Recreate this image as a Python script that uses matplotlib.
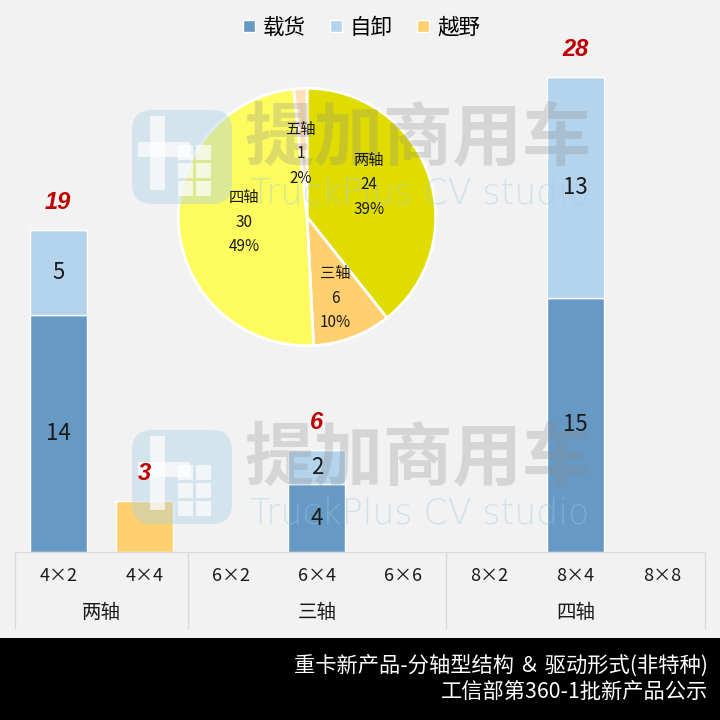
import matplotlib.pyplot as plt
from matplotlib.patches import FancyBboxPatch, Rectangle
from matplotlib.lines import Line2D
import numpy as np

plt.rcParams['font.family'] = ['Noto Sans CJK SC', 'DejaVu Sans']

# bar data
categories = ['4×2', '4×4', '6×2', '6×4', '6×6', '8×2', '8×4', '8×8']
groups = ['两轴', '三轴', '四轴']
group_sizes = [2, 3, 3]
series = ['载货', '自卸', '越野']
cargo = [14, 0, 0, 4, 0, 0, 15, 0]
dump = [5, 0, 0, 2, 0, 0, 13, 0]
offroad = [0, 3, 0, 0, 0, 0, 0, 0]
colors = ['#6699C4', '#B4D4EE', '#FFD16E']

# pie data
pie_labels = ['两轴', '三轴', '四轴', '五轴']
pie_values = [24, 6, 30, 1]
pie_colors = ['#E0DC00', '#FFCF70', '#FDFB5E', '#FFE0B8']
# where the labels sit inside the pie (pie radius = 1)
pie_label_xy = [(0.48, 0.25), (0.22, -0.63), (-0.49, -0.04), (-0.05, 0.49)]

bg = '#F2F2F2'
fig = plt.figure(figsize=(7.2, 7.2), dpi=100, facecolor=bg)

W = H = 720.0
def fx(px):
    return px / W
def fy(py):
    return 1 - py / H

# bar axes
ax = fig.add_axes([fx(15), fy(552), fx(705) - fx(15), fy(50) - fy(552)], zorder=0)
ax.set_facecolor(bg)
x = np.arange(len(categories))
totals = [a + b + c for a, b, c in zip(cargo, dump, offroad)]
bottom = np.zeros(len(categories))
for name, vals, col in zip(series, [cargo, dump, offroad], colors):
    vals = np.array(vals)
    ax.bar(x, vals, 0.66, bottom=bottom, color=col, edgecolor='white', linewidth=1, label=name)
    for xi, v, b in zip(x, vals, bottom):
        if v > 0 and name != '越野':
            fig.text(xi, b + v / 2, str(v), ha='center', va='center', fontsize=16, color='#1a1a1a',
                     transform=ax.transData)
    bottom += vals
for xi, t in zip(x, totals):
    if t > 0:
        fig.text(xi, t + 0.95, str(t), ha='center', va='bottom', fontsize=17, color='#C00000',
                 fontweight='bold', fontstyle='italic', family='Liberation Sans', transform=ax.transData)
ax.set_xlim(-0.5, len(categories) - 0.5)
ax.set_ylim(0, 502 / 16.95)
ax.set_xticks([])
ax.set_yticks([])
for s in ['top', 'left', 'right']:
    ax.spines[s].set_visible(False)
ax.spines['bottom'].set_color('#D9D9D9')

# category + group labels
for xi, c in zip(x, categories):
    ax.text(xi, -24 / 16.95, c, ha='center', va='center', fontsize=13, color='#1a1a1a', clip_on=False)
pos = 0
edges = [-0.5]
for g, n in zip(groups, group_sizes):
    ax.text(pos + (n - 1) / 2, -61 / 16.95, g, ha='center', va='center', fontsize=14, color='#1a1a1a', clip_on=False)
    pos += n
    edges.append(pos - 0.5)
for e in edges:
    ax.plot([e, e], [0, -76 / 16.95], color='#D9D9D9', linewidth=1, clip_on=False)

# legend
handles = [Line2D([], [], marker='s', linestyle='', markersize=9, markerfacecolor=c, markeredgecolor='white')
           for c in colors]
fig.legend(handles, series, loc='center', bbox_to_anchor=(0.5, fy(28)), ncol=3, frameon=False,
           fontsize=15.5, handlelength=0.8, handletextpad=0.25, columnspacing=1.0)

# pie inset
r = 130
pax = fig.add_axes([fx(307 - r), fy(217 + r), 2 * r / W, 2 * r / H], zorder=1)
wedges, _ = pax.pie(pie_values, colors=pie_colors, startangle=90, counterclock=False,
                    wedgeprops=dict(edgecolor='white', linewidth=2))
total = sum(pie_values)
pax.set_xlim(-1.01, 1.01)
pax.set_ylim(-1.01, 1.01)
for lab, v, (lx, ly) in zip(pie_labels, pie_values, pie_label_xy):
    fig.text(lx, ly, f'{lab}\n{v}\n{v / total:.0%}', ha='center', va='center',
             fontsize=11, color='#1a1a1a', linespacing=1.6, transform=pax.transData)

# watermark overlay (under the texts)
wax = fig.add_axes([0, 0, 1, 1], facecolor='none', zorder=2)
wax.set_xlim(0, W)
wax.set_ylim(H, 0)
wax.axis('off')
for dy in [0, 320]:
    wax.add_patch(FancyBboxPatch((132, 110 + dy), 100, 94, boxstyle='round,pad=0,rounding_size=20',
                                 facecolor='#A9D0E6', edgecolor='none', alpha=0.4))
    wax.add_patch(Rectangle((150, 116 + dy), 15, 74, facecolor='white', alpha=0.7, edgecolor='none'))
    wax.add_patch(Rectangle((138, 142 + dy), 52, 15, facecolor='white', alpha=0.7, edgecolor='none'))
    for i in range(2):
        for j in range(3):
            wax.add_patch(Rectangle((178 + i * 18, 145 + j * 18 + dy), 15, 15, facecolor='white',
                                    alpha=0.7, edgecolor='none'))
    wax.text(418, 140 + dy, '提加商用车', ha='center', va='center', fontsize=50, fontweight='bold',
             color='#8C8C8C', alpha=0.28)
    wax.text(420, 194 + dy, 'TruckPlus CV studio', ha='center', va='center', fontsize=25,
             color='#9CCAE4', alpha=0.4, family='DejaVu Sans', fontweight='light')

# bottom banner
wax.add_patch(Rectangle((0, 638), W, 82, facecolor='black', edgecolor='none'))
fig.text(fx(708), fy(666), '重卡新产品-分轴型结构 ＆ 驱动形式(非特种)', ha='right', va='center', fontsize=15.3, color='white')
fig.text(fx(708), fy(692), '工信部第360-1批新产品公示', ha='right', va='center', fontsize=15.3, color='white')

fig.savefig('out.png', dpi=100, facecolor=bg)
